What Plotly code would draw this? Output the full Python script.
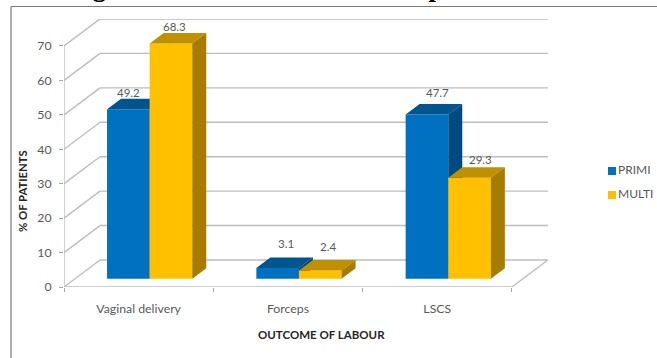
import plotly.graph_objects as go

categories = ["Vaginal delivery", "Forceps", "LSCS"]
primi = [49.2, 3.1, 47.7]
multi = [68.3, 2.4, 29.3]
series_names = ["PRIMI", "MULTI"]
y_ticks = [0, 10, 20, 30, 40, 50, 60, 70]
x_title = "OUTCOME OF LABOUR"
y_title = "% OF PATIENTS"
title = "Figure 4: Outcome of labour in primi and multi"

W, H = 657, 358
L, R, T, B = 64, 650, 19, 287      # plot area reaches over the legend column
PX_PER_CAT = 149.3
PX_PER_VAL = 3.443
DEPTH_X, DEPTH_Y = 36 / PX_PER_CAT, 27 / PX_PER_VAL   # full depth of the floor, axis units
BAR_W = 42.6 / PX_PER_CAT
D0, D1 = 11 / 36, 25 / 36                              # depth slots occupied by bars

X_RANGE = [-0.5, -0.5 + (R - L) / PX_PER_CAT]
Y_RANGE = [0, (B - T) / PX_PER_VAL]
TEXT = "#595959"
GRID = "#bdbdbd"
FONT = "Lato"

COL = {
    "PRIMI": ("#0070C0", "#00558F", "#004A7F"),
    "MULTI": ("#FFC000", "#BF9000", "#A67C00"),
}
# label nudges in pixels (x, y) from the top-centre of each front face
NUDGE = {
    "PRIMI": [(0, 17), (8, 25), (11, 22)],
    "MULTI": [(4, 17), (8, 24), (11, 18)],
}
# legend swatch positions in pixels
LEGEND_X = 612
LEGEND_Y = {"PRIMI": 171, "MULTI": 195}


def px(x, depth=0.0):
    return x + depth * DEPTH_X


def py(v, depth=0.0):
    return v + depth * DEPTH_Y


def x_from_pixel(p):
    return X_RANGE[0] + (p - L) / PX_PER_CAT


def y_from_pixel(p):
    return (B - p) / PX_PER_VAL


fig = go.Figure()
annotations = []
shapes = []


def line(x0, y0, d0, x1, y1, d1, color=GRID, width=1.4):
    shapes.append(dict(type="line", xref="x", yref="y", layer="below",
                       x0=px(x0, d0), y0=py(y0, d0), x1=px(x1, d1), y1=py(y1, d1),
                       line=dict(color=color, width=width)))


x_left, x_right_front = -0.5, 2.5
for t in y_ticks:
    line(x_left, t, 0, x_left, t, 1)
    line(x_left, t, 1, x_right_front, t, 1)
line(x_left, 0, 0, x_right_front, 0, 0)
line(x_right_front, 0, 0, x_right_front, 0, 1)
line(x_left, 0, 0, x_left, y_ticks[-1], 0)

for s, (name, vals) in enumerate(zip(series_names, [primi, multi])):
    front, top, side = COL[name]
    z = s * 2
    xs_left = [i + (s - 1) * BAR_W for i in range(len(categories))]
    fig.add_trace(go.Bar(
        x=[px(i, D0) for i in range(len(categories))],
        y=vals,
        base=[py(0, D0)] * len(vals),
        width=BAR_W,
        offset=(s - 1) * BAR_W,
        marker=dict(color=front, line=dict(width=0)),
        showlegend=False,
        hoverinfo="skip",
        zorder=z,
    ))
    for i, v in enumerate(vals):
        xa = px(xs_left[i], D0)
        xb = xa + BAR_W
        dd = D1 - D0
        yb = py(v, D0)
        base = py(0, D0)
        fig.add_trace(go.Scatter(
            x=[xa, xb, xb + dd * DEPTH_X, xa + dd * DEPTH_X, xa],
            y=[yb, yb, yb + dd * DEPTH_Y, yb + dd * DEPTH_Y, yb],
            mode="lines", fill="toself", fillcolor=top, line=dict(width=0),
            showlegend=False, hoverinfo="skip", zorder=z + 1))
        fig.add_trace(go.Scatter(
            x=[xb, xb + dd * DEPTH_X, xb + dd * DEPTH_X, xb, xb],
            y=[base, base + dd * DEPTH_Y, yb + dd * DEPTH_Y, yb, base],
            mode="lines", fill="toself", fillcolor=side, line=dict(width=0),
            showlegend=False, hoverinfo="skip", zorder=z + 1))
        nx, ny = NUDGE[name][i]
        annotations.append(dict(
            x=xa + BAR_W / 2, y=yb, xref="x", yref="y", text=f"{v}", showarrow=False,
            xshift=nx, yshift=ny, font=dict(family=FONT, size=11.5, color=TEXT)))

for name in series_names:
    fig.add_trace(go.Scatter(
        x=[x_from_pixel(LEGEND_X)], y=[y_from_pixel(LEGEND_Y[name])],
        mode="markers+text", name=name, text=[name], textposition="middle right",
        textfont=dict(family=FONT, size=12, color=TEXT), cliponaxis=False,
        marker=dict(symbol="square", size=8, color=COL[name][0]),
        showlegend=False, hoverinfo="skip"))


def paper_x(p):
    return (p - L) / (R - L)


def paper_y(p):
    return (B - p) / (B - T)


annotations += [
    dict(x=paper_x(321), y=paper_y(334), xref="paper", yref="paper", text=f"<b>{x_title}</b>",
         xanchor="center", yanchor="middle", showarrow=False,
         font=dict(family=FONT, size=11.5, color="#262626")),
    dict(x=paper_x(22), y=paper_y(191), xref="paper", yref="paper", text=f"<b>{y_title}</b>",
         xanchor="center", yanchor="middle", textangle=-90, showarrow=False,
         font=dict(family=FONT, size=11.3, color="#262626")),
    dict(x=paper_x(339), y=paper_y(-12.5), xref="paper", yref="paper", text=f"<b>{title}</b>",
         xanchor="center", yanchor="middle", showarrow=False,
         font=dict(family="Liberation Serif", size=26.6, color="#000000")),
]
frame = "#7a7a7a"
shapes += [
    dict(type="line", xref="paper", yref="paper", x0=paper_x(11), x1=paper_x(11),
         y0=paper_y(6.5), y1=paper_y(358), line=dict(color=frame, width=1.2)),
    dict(type="line", xref="paper", yref="paper", x0=paper_x(11), x1=paper_x(657),
         y0=paper_y(6.5), y1=paper_y(6.5), line=dict(color=frame, width=1.2)),
]

fig.update_layout(
    width=W, height=H,
    margin=dict(l=L, r=W - R, t=T, b=H - B, autoexpand=False),
    paper_bgcolor="white", plot_bgcolor="rgba(0,0,0,0)",
    barmode="overlay",
    showlegend=False,
    annotations=annotations, shapes=shapes,
    font=dict(family=FONT, size=12.3, color=TEXT),
    xaxis=dict(range=X_RANGE, tickmode="array", tickvals=list(range(len(categories))),
               ticktext=categories, ticks="", showgrid=False, zeroline=False, showline=False,
               ticklabelstandoff=13,
               minor=dict(tickmode="array", tickvals=[-0.5, 0.5, 1.5, 2.5], ticks="outside",
                          ticklen=4, tickcolor="#a6a6a6", tickwidth=1.2, showgrid=False)),
    yaxis=dict(range=Y_RANGE, tickmode="array", tickvals=y_ticks, ticks="outside", ticklen=4,
               tickcolor="#a6a6a6", tickwidth=1.2, showgrid=False, zeroline=False, showline=False,
               ticklabelstandoff=5),
)

fig.write_html("out.html", config={"displayModeBar": False},
               post_script="document.body.style.margin='0';document.body.style.overflow='hidden';")
